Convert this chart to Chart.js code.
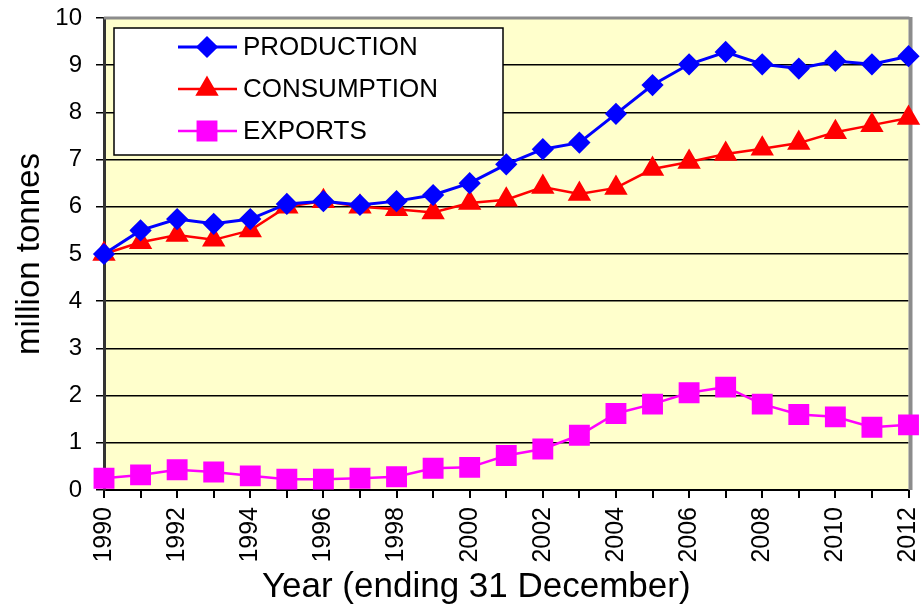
<!DOCTYPE html>
<html lang="en">
<head>
<meta charset="UTF-8">
<title>Production, consumption and exports</title>
<script src="https://cdn.jsdelivr.net/npm/chart.js"></script>
<style>
  html, body { margin: 0; padding: 0; background: #fff; }
</style>
</head>
<body>
<canvas id="chart" width="924" height="604"></canvas>
<script>
// values (million tonnes)
const years = ['1990', '1991', '1992', '1993', '1994', '1995', '1996', '1997', '1998', '1999', '2000',
    '2001', '2002', '2003', '2004', '2005', '2006', '2007', '2008', '2009', '2010', '2011', '2012'];
const production = [5.0, 5.5, 5.74, 5.64, 5.74, 6.06, 6.12, 6.04, 6.12, 6.25, 6.5,
    6.9, 7.22, 7.36, 7.97, 8.58, 9.02, 9.28, 9.02, 8.93, 9.09, 9.02, 9.19];
const consumption = [5.0, 5.25, 5.4, 5.3, 5.5, 6.0, 6.12, 6.0, 5.95, 5.88, 6.08,
    6.15, 6.42, 6.27, 6.4, 6.8, 6.95, 7.12, 7.23, 7.35, 7.58, 7.73, 7.88];
const exportsData = [0.25, 0.32, 0.43, 0.38, 0.3, 0.23, 0.23, 0.25, 0.28, 0.46, 0.48,
    0.73, 0.87, 1.16, 1.62, 1.82, 2.06, 2.18, 1.82, 1.6, 1.55, 1.33, 1.38];
const yMin = 0, yMax = 10, yStep = 1;
const xTitle = 'Year (ending 31 December)';

const FONT = "'Liberation Sans', Arial, sans-serif";

// yellow plot background + grey frame on top/right
const plotFrame = {
    id: 'plotFrame',
    beforeDraw(chart) {
        const { ctx, chartArea: a } = chart;
        ctx.save();
        ctx.fillStyle = '#FFFFCC';
        ctx.fillRect(a.left, a.top, a.right - a.left, a.bottom - a.top);
        ctx.restore();
    },
    beforeDatasetsDraw(chart) {
        const { ctx, chartArea: a } = chart;
        ctx.save();
        ctx.strokeStyle = '#8c8c8c';
        ctx.lineWidth = 3;
        ctx.beginPath();
        ctx.moveTo(a.left, a.top);
        ctx.lineTo(a.right + 1, a.top);
        ctx.stroke();
        ctx.lineWidth = 4;
        ctx.beginPath();
        ctx.moveTo(a.right + 2, a.top - 1);
        ctx.lineTo(a.right + 2, a.bottom);
        ctx.stroke();
        ctx.restore();
    },
    // x axis title sits a little left of centre in the original
    afterDraw(chart) {
        const { ctx, chartArea: a } = chart;
        ctx.save();
        ctx.fillStyle = '#000';
        ctx.font = '35px ' + FONT;
        ctx.textAlign = 'center';
        ctx.textBaseline = 'alphabetic';
        ctx.fillText(xTitle, (a.left + a.right) / 2 - 30, 597);
        ctx.restore();
    }
};

// boxed legend inside the plot, top left
const legendBox = {
    id: 'legendBox',
    afterDatasetsDraw(chart) {
        const { ctx, chartArea: a } = chart;
        const x = a.left + 10, y = a.top + 10, w = 389, h = 127;
        ctx.save();
        ctx.fillStyle = '#fff';
        ctx.fillRect(x, y, w, h);
        ctx.strokeStyle = '#000';
        ctx.lineWidth = 1.5;
        ctx.strokeRect(x, y, w, h);
        chart.data.datasets.forEach((ds, i) => {
            const cy = y + 19 + i * 42;
            ctx.strokeStyle = ds.borderColor;
            ctx.lineWidth = ds.borderWidth;
            ctx.beginPath();
            ctx.moveTo(x + 64, cy);
            ctx.lineTo(x + 123, cy);
            ctx.stroke();
            ctx.fillStyle = ds.pointBackgroundColor;
            ctx.strokeStyle = ds.pointBorderColor;
            Chart.helpers.drawPoint(ctx, {
                pointStyle: ds.pointStyle, radius: ds.pointRadius, borderWidth: 1, rotation: 0
            }, x + 93, cy);
            ctx.fillStyle = '#000';
            ctx.font = '26px ' + FONT;
            ctx.textBaseline = 'middle';
            ctx.textAlign = 'left';
            ctx.fillText(ds.label, x + 129, cy + 1);
        });
        ctx.restore();
    }
};

const ctx = document.getElementById('chart').getContext('2d');
const chart = new Chart(ctx, {
    type: 'line',
    data: {
        labels: years,
        datasets: [
            {
                label: 'PRODUCTION',
                data: production,
                borderColor: '#0000FF',
                borderWidth: 3,
                pointStyle: 'rectRot',
                pointRadius: 9,
                pointBackgroundColor: '#0000FF',
                pointBorderColor: '#0000FF',
                clip: false
            },
            {
                label: 'CONSUMPTION',
                data: consumption,
                borderColor: '#FF0000',
                borderWidth: 2.5,
                pointStyle: 'triangle',
                pointRadius: 11,
                pointBackgroundColor: '#FF0000',
                pointBorderColor: '#FF0000',
                clip: false
            },
            {
                label: 'EXPORTS',
                data: exportsData,
                borderColor: '#FF00FF',
                borderWidth: 2.5,
                pointStyle: 'rect',
                pointRadius: 13,
                pointBackgroundColor: '#FF00FF',
                pointBorderColor: '#FF00FF',
                clip: false
            }
        ]
    },
    options: {
        responsive: false,
        animation: false,
        devicePixelRatio: 1,
        layout: { padding: { top: 18, right: 12, left: 0, bottom: 0 } },
        plugins: {
            legend: { display: false },
            tooltip: { enabled: false }
        },
        scales: {
            x: {
                offset: false,
                afterFit: (scale) => {
                    scale.height = 114;
                    scale.paddingLeft = 0;
                    scale.paddingRight = 0;
                },
                grid: { drawOnChartArea: false, drawTicks: true, tickLength: 8, color: '#000', lineWidth: 2 },
                border: { color: '#000', width: 2 },
                ticks: {
                    autoSkip: false,
                    maxRotation: 90,
                    minRotation: 90,
                    padding: 9,
                    color: '#000',
                    font: { family: FONT, size: 25 },
                    callback: function (value, index) {
                        return index % 2 === 0 ? this.getLabelForValue(value) : '';
                    }
                },
                title: { display: false }
            },
            y: {
                min: yMin,
                max: yMax,
                afterFit: (scale) => {
                    scale.width = 104;
                    scale.paddingTop = 0;
                    scale.paddingBottom = 0;
                },
                grid: { color: '#000', lineWidth: 1.5, tickLength: 8 },
                border: { color: '#333', width: 3 },
                ticks: {
                    stepSize: yStep,
                    padding: 14,
                    color: '#000',
                    font: { family: FONT, size: 24 }
                },
                title: {
                    display: true,
                    text: 'million tonnes',
                    color: '#000',
                    font: { family: FONT, size: 33 },
                    padding: { top: 10, bottom: 0 }
                }
            }
        }
    },
    plugins: [plotFrame, legendBox]
});
</script>
</body>
</html>
